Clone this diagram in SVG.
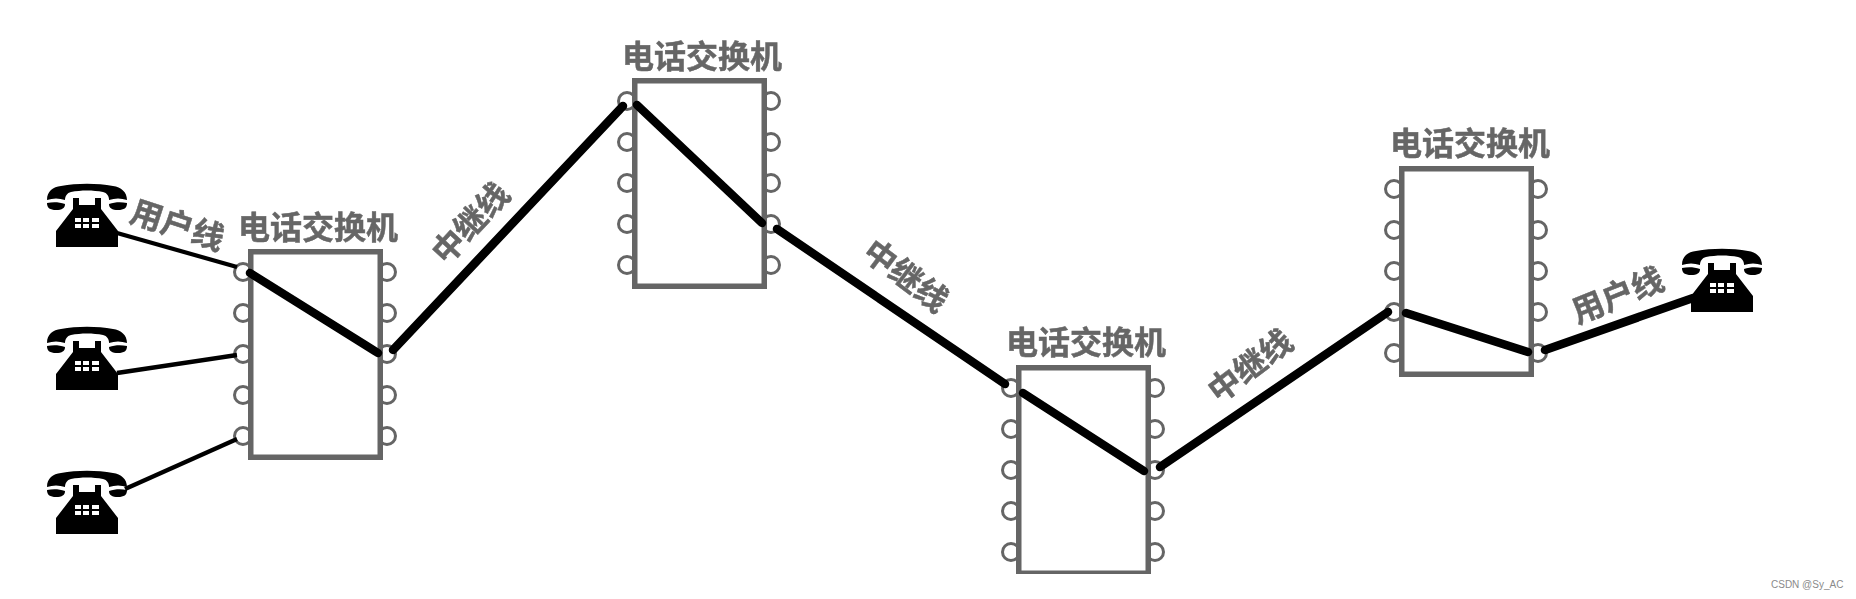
<svg xmlns="http://www.w3.org/2000/svg" width="1856" height="599" viewBox="0 0 1856 599">
<style>
.box{fill:#fff;stroke:#656565;stroke-width:5.5}
.port{fill:#fff;stroke:#656565;stroke-width:3}
.lbl{font-family:"Liberation Sans","Noto Sans CJK SC",sans-serif;font-size:32px;font-weight:700;fill:#666;stroke:#666;stroke-width:.5;text-anchor:middle}
.thin{stroke:#000;stroke-width:4.4;fill:none}
.thick{stroke:#000;stroke-width:8.5;fill:none;stroke-linecap:round}
.mark{font-family:"Liberation Sans",Arial,sans-serif;font-size:10px;fill:#8a8a8a}
</style>
<defs>
<filter id="soft" x="0" y="0" width="100%" height="100%"><feGaussianBlur stdDeviation="0.6"/></filter>
<g id="sw">
<circle class="port" cx="-5" cy="23" r="8.5"/><circle class="port" cx="-5" cy="64" r="8.5"/><circle class="port" cx="-5" cy="105" r="8.5"/><circle class="port" cx="-5" cy="146" r="8.5"/><circle class="port" cx="-5" cy="187" r="8.5"/>
<circle class="port" cx="139" cy="23" r="8.5"/><circle class="port" cx="139" cy="64" r="8.5"/><circle class="port" cx="139" cy="105" r="8.5"/><circle class="port" cx="139" cy="146" r="8.5"/><circle class="port" cx="139" cy="187" r="8.5"/>
<rect class="box" x="2.75" y="2.75" width="129.5" height="205.5"/>
</g>
<g id="ph">
<path d="M0 17C0 8 6 4 14 3C30 0 50 0 66 3C74 4 80 9 80 17C74 15 68 15 62 17C62 13 60 10 56 9C46 7 34 7 24 9C20 10 18 13 18 17C12 15 6 15 0 17Z"/>
<path d="M0 20C6 19 12 19 18 21C18 25 15 27 9 27C3 27 0 25 0 20Z"/>
<path d="M80 20C74 19 68 19 62 21C62 25 65 27 71 27C77 27 80 25 80 20Z"/>
<path fill-rule="evenodd" d="M9 64V48L26 26V15H32V22H48V15H54V26L71 48V64ZM28 35V39H34V35ZM36 35V39H42V35ZM45 35V39H52V35ZM28 41V45H34V41ZM36 41V45H42V41ZM45 41V45H52V41Z"/>
</g>
</defs>
<rect width="1856" height="599" fill="#fff"/>
<g filter="url(#soft)">
<g id="switch1"><use href="#sw" x="248" y="249"/><text class="lbl" x="318" y="239">电话交换机</text></g>
<g id="switch2"><use href="#sw" x="632" y="78"/><text class="lbl" x="702" y="68">电话交换机</text></g>
<g id="switch3"><use href="#sw" x="1016" y="365"/><text class="lbl" x="1086" y="354">电话交换机</text></g>
<g id="switch4"><use href="#sw" x="1399" y="166"/><text class="lbl" x="1470" y="155">电话交换机</text></g>
<g id="phone1"><use href="#ph" x="47" y="183"/></g>
<g id="phone2"><use href="#ph" x="47" y="326"/></g>
<g id="phone3"><use href="#ph" x="47" y="470"/></g>
<g id="phone4"><use href="#ph" x="1682" y="248"/></g>
<g id="connectors">
<path class="thin" d="M117 233L237 267"/>
<path class="thin" d="M117 373L237 355"/>
<path class="thin" d="M125 489L237 439"/>
<path class="thick" d="M250 273L378 353"/>
<path class="thick" d="M393 350L623 106"/>
<path class="thick" d="M637 105L762 223"/>
<path class="thick" d="M777 229L1005 384"/>
<path class="thick" d="M1023 393L1144 471"/>
<path class="thick" d="M1160 467L1388 312"/>
<path class="thick" d="M1406 313L1528 352"/>
<path class="thick" d="M1545 350L1693 298"/>
</g>
<g id="labels">
<text class="lbl" transform="translate(174 236) rotate(18)">用户线</text>
<text class="lbl" transform="translate(479 231) rotate(-47)">中继线</text>
<text class="lbl" transform="translate(899 285) rotate(37)">中继线</text>
<text class="lbl" transform="translate(1257 375) rotate(-37)">中继线</text>
<text class="lbl" transform="translate(1622 306) rotate(-22)">用户线</text>
</g>
</g>
<text class="mark" x="1771" y="588">CSDN @Sy_AC</text>
</svg>
